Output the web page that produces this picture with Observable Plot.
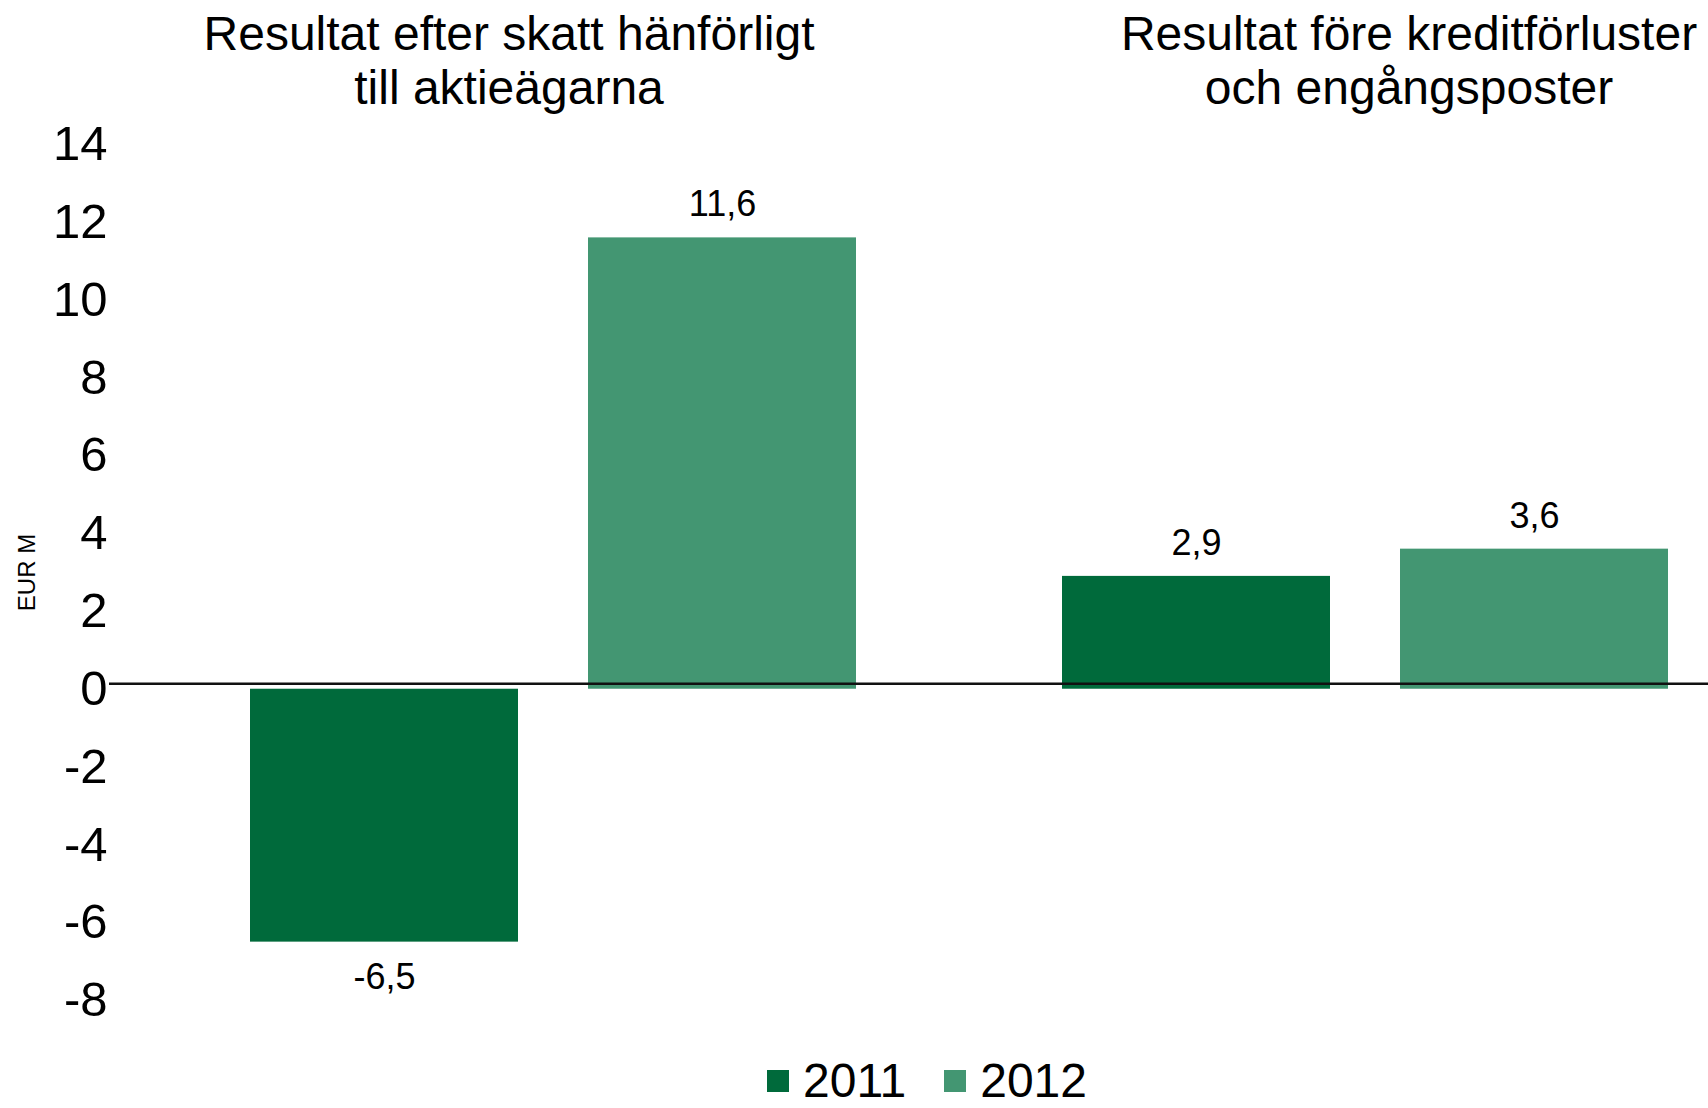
<!DOCTYPE html>
<html>
<head>
<meta charset="utf-8">
<script src="https://cdn.jsdelivr.net/npm/d3@7"></script>
<script src="https://cdn.jsdelivr.net/npm/@observablehq/plot@0.6"></script>
<style>
  html, body { margin: 0; padding: 0; background: #fff; overflow: hidden; }
  body { width: 1708px; height: 1108px; position: relative; font-family: "Liberation Sans", Arial, sans-serif; }
  #legend { position: absolute; left: 767px; top: 1062px; display: flex; align-items: center; font-size: 48px; color: #000; line-height: 38px; height: 38px; }
  #legend .sw { width: 22px; height: 22px; display: inline-block; margin-right: 14px; }
  #legend .item { display: flex; align-items: center; margin-right: 38px; }
</style>
</head>
<body>
<div id="chart"></div>
<div id="legend"></div>
<script>
// ---- data ----
const categories = ["Resultat efter skatt hänförligt\ntill aktieägarna", "Resultat före kreditförluster\noch engångsposter"];
const years = ["2011", "2012"];
const values2011 = [-6.5, 2.9];
const values2012 = [11.6, 3.6];
const yTicks = [-8, -6, -4, -2, 0, 2, 4, 6, 8, 10, 12, 14];
const colors = ["#006a3b", "#439672"];
const yLabel = "EUR M";

const data = categories.flatMap((c, i) => [
  {category: c, year: years[0], value: values2011[i]},
  {category: c, year: years[1], value: values2012[i]}
]);
const fmt = v => v.toFixed(1).replace(".", ",");

const chart = Plot.plot({
  width: 1708,
  height: 1040,
  marginTop: 144,
  marginBottom: 40,
  marginLeft: 249,
  marginRight: 38,
  style: {fontFamily: "'Liberation Sans', Arial, sans-serif", color: "#000", background: "#fff", overflow: "visible"},
  fx: {domain: categories, paddingInner: 0.252, paddingOuter: 0, axis: null, label: null},
  x: {domain: years, paddingInner: 0.206, paddingOuter: 0, axis: null, label: null},
  y: {domain: [-8, 14], ticks: yTicks, label: null},
  color: {domain: years, range: colors},
  marks: [
    Plot.barY(data, {fx: "category", x: "year", y: "value", fill: "year"}),
    Plot.axisY({ticks: yTicks, tickSize: 0, tickPadding: 143, fontSize: 49, tickFormat: d => String(d), label: null}),
    Plot.text(data.filter(d => d.value >= 0), {fx: "category", x: "year", y: "value", text: d => fmt(d.value), dy: -33, fontSize: 36, fill: "#000"}),
    Plot.text(data.filter(d => d.value < 0), {fx: "category", x: "year", y: "value", text: d => fmt(d.value), dy: 35, fontSize: 36, fill: "#000"}),
    Plot.text([categories[0]], {fx: d => d, text: d => d, frameAnchor: "top", lineAnchor: "middle", dy: -85, dx: -45, fontSize: 48, lineHeight: 1.13, fill: "#000"}),
    Plot.text([categories[1]], {fx: d => d, text: d => d, frameAnchor: "top", lineAnchor: "middle", dy: -85, dx: 43, fontSize: 48, lineHeight: 1.13, fill: "#000"}),
    Plot.text([yLabel], {fx: () => categories[0], text: d => d, frameAnchor: "left", textAnchor: "middle", lineAnchor: "middle", rotate: -90, dx: -223, fontSize: 24, fill: "#000"})
  ]
});
document.getElementById("chart").appendChild(chart);

// zero baseline spanning the full width, positioned through the chart's y scale
const y0 = chart.scale("y").apply(0) - 5;
d3.select(chart).append("line")
  .attr("x1", 109).attr("x2", 1708)
  .attr("y1", y0).attr("y2", y0)
  .attr("stroke", "#111").attr("stroke-width", 2.5);

// legend
const legend = d3.select("#legend");
years.forEach((yr, i) => {
  const item = legend.append("div").attr("class", "item");
  item.append("span").attr("class", "sw").style("background", colors[i]);
  item.append("span").text(yr);
});
</script>
</body>
</html>
